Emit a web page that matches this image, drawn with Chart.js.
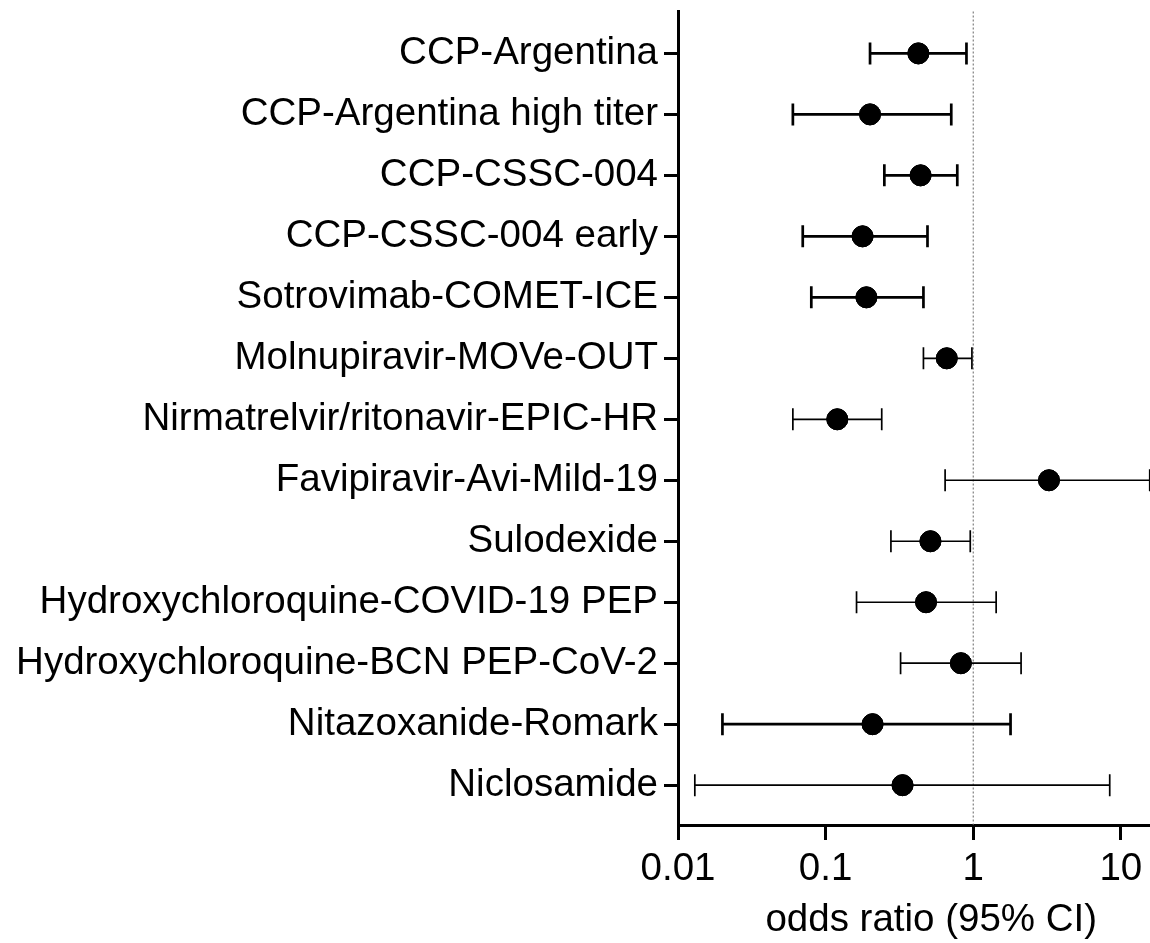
<!DOCTYPE html>
<html>
<head>
<meta charset="utf-8">
<script src="https://cdn.jsdelivr.net/npm/chart.js@4.4.0/dist/chart.umd.min.js"></script>
<style>
    body { margin: 0; background: #fff; overflow: hidden; }
</style>
</head>
<body>
<canvas id="forest" width="1196" height="943"></canvas>
<script>
const trials = [
    'CCP-Argentina',
    'CCP-Argentina high titer',
    'CCP-CSSC-004',
    'CCP-CSSC-004 early',
    'Sotrovimab-COMET-ICE',
    'Molnupiravir-MOVe-OUT',
    'Nirmatrelvir/ritonavir-EPIC-HR',
    'Favipiravir-Avi-Mild-19',
    'Sulodexide',
    'Hydroxychloroquine-COVID-19 PEP',
    'Hydroxychloroquine-BCN PEP-CoV-2',
    'Nitazoxanide-Romark',
    'Niclosamide'
];
const oddsRatio = [0.425, 0.2, 0.44, 0.178, 0.189, 0.662, 0.12, 3.26, 0.513, 0.479, 0.825, 0.208, 0.332];
const ciLower = [0.2, 0.06, 0.25, 0.07, 0.08, 0.46, 0.06, 0.645, 0.277, 0.162, 0.322, 0.02, 0.013];
const ciUpper = [0.9, 0.71, 0.78, 0.49, 0.46, 0.98, 0.24, 15.7, 0.955, 1.43, 2.11, 1.79, 8.41];
const xTicks = [0.01, 0.1, 1, 10];

// thicker whiskers on some rows, like the original
const barWidths = [2.7, 2.7, 2.7, 2.7, 2.7, 1.7, 1.7, 1.7, 1.7, 1.7, 1.7, 2.7, 1.7];

const FONT = "'Liberation Sans', Arial, sans-serif";

const errorBars = {
    id: 'errorBars',
    beforeDatasetsDraw(chart) {
        const { ctx, chartArea, scales: { x } } = chart;
        const px = x.getPixelForValue(1);
        ctx.save();
        ctx.strokeStyle = '#666';
        ctx.lineWidth = 1;
        ctx.setLineDash([2, 2]);
        ctx.beginPath();
        ctx.moveTo(px, chartArea.top);
        ctx.lineTo(px, chartArea.bottom);
        ctx.stroke();
        ctx.restore();
    },
    afterDatasetsDraw(chart) {
        const { ctx, scales: { x, y } } = chart;
        ctx.save();
        ctx.strokeStyle = '#000';
        trials.forEach((t, i) => {
            const py = y.getPixelForValue(i);
            const x1 = x.getPixelForValue(ciLower[i]);
            const x2 = x.getPixelForValue(ciUpper[i]);
            ctx.lineWidth = barWidths[i];
            ctx.beginPath();
            ctx.moveTo(x1, py);
            ctx.lineTo(x2, py);
            ctx.moveTo(x1, py - 11);
            ctx.lineTo(x1, py + 11);
            ctx.moveTo(x2, py - 11);
            ctx.lineTo(x2, py + 11);
            ctx.stroke();
        });
        ctx.restore();
        // redraw the points on top of the whiskers
        chart.getDatasetMeta(0).controller.draw();
    }
};

const ctx = document.getElementById('forest').getContext('2d');
const forest = new Chart(ctx, {
    type: 'scatter',
    data: {
        datasets: [{
            data: oddsRatio.map((v, i) => ({ x: v, y: i })),
            backgroundColor: '#000',
            borderColor: '#000',
            pointRadius: 10.5,
            pointHoverRadius: 10.5
        }]
    },
    options: {
        responsive: false,
        animation: false,
        devicePixelRatio: 1,
        layout: { padding: { top: 9, right: 0, left: 0, bottom: 0 } },
        plugins: {
            legend: { display: false },
            tooltip: { enabled: false }
        },
        scales: {
            x: {
                type: 'logarithmic',
                min: 0.01,
                max: 27,
                afterBuildTicks: (scale) => { scale.ticks = xTicks.map(v => ({ value: v })); },
                afterFit: (scale) => { scale.height = 118; scale.paddingLeft = 0; scale.paddingRight = 0; },
                border: { display: true, color: '#000', width: 3 },
                grid: { drawOnChartArea: false, drawTicks: true, tickLength: 15, tickWidth: 3, tickColor: '#000' },
                ticks: {
                    color: '#000',
                    padding: 6,
                    autoSkip: false,
                    maxRotation: 0,
                    font: { family: FONT, size: 38.5 },
                    callback: (v) => String(v)
                },
                title: {
                    display: true,
                    text: 'odds ratio (95% CI)',
                    color: '#000',
                    font: { family: FONT, size: 38.5 },
                    padding: { top: 4, bottom: 0 }
                }
            },
            y: {
                type: 'linear',
                reverse: true,
                min: -0.687,
                max: 12.653,
                afterBuildTicks: (scale) => { scale.ticks = trials.map((t, i) => ({ value: i })); },
                afterFit: (scale) => { scale.width = 678; scale.paddingTop = 0; scale.paddingBottom = 0; },
                border: { display: true, color: '#000', width: 3 },
                grid: { drawOnChartArea: false, drawTicks: true, tickLength: 14, tickWidth: 3, tickColor: '#000' },
                ticks: {
                    color: '#000',
                    padding: 6,
                    autoSkip: false,
                    font: { family: FONT, size: 38.5 },
                    callback: (v) => trials[v]
                }
            }
        }
    },
    plugins: [errorBars]
});
</script>
</body>
</html>
